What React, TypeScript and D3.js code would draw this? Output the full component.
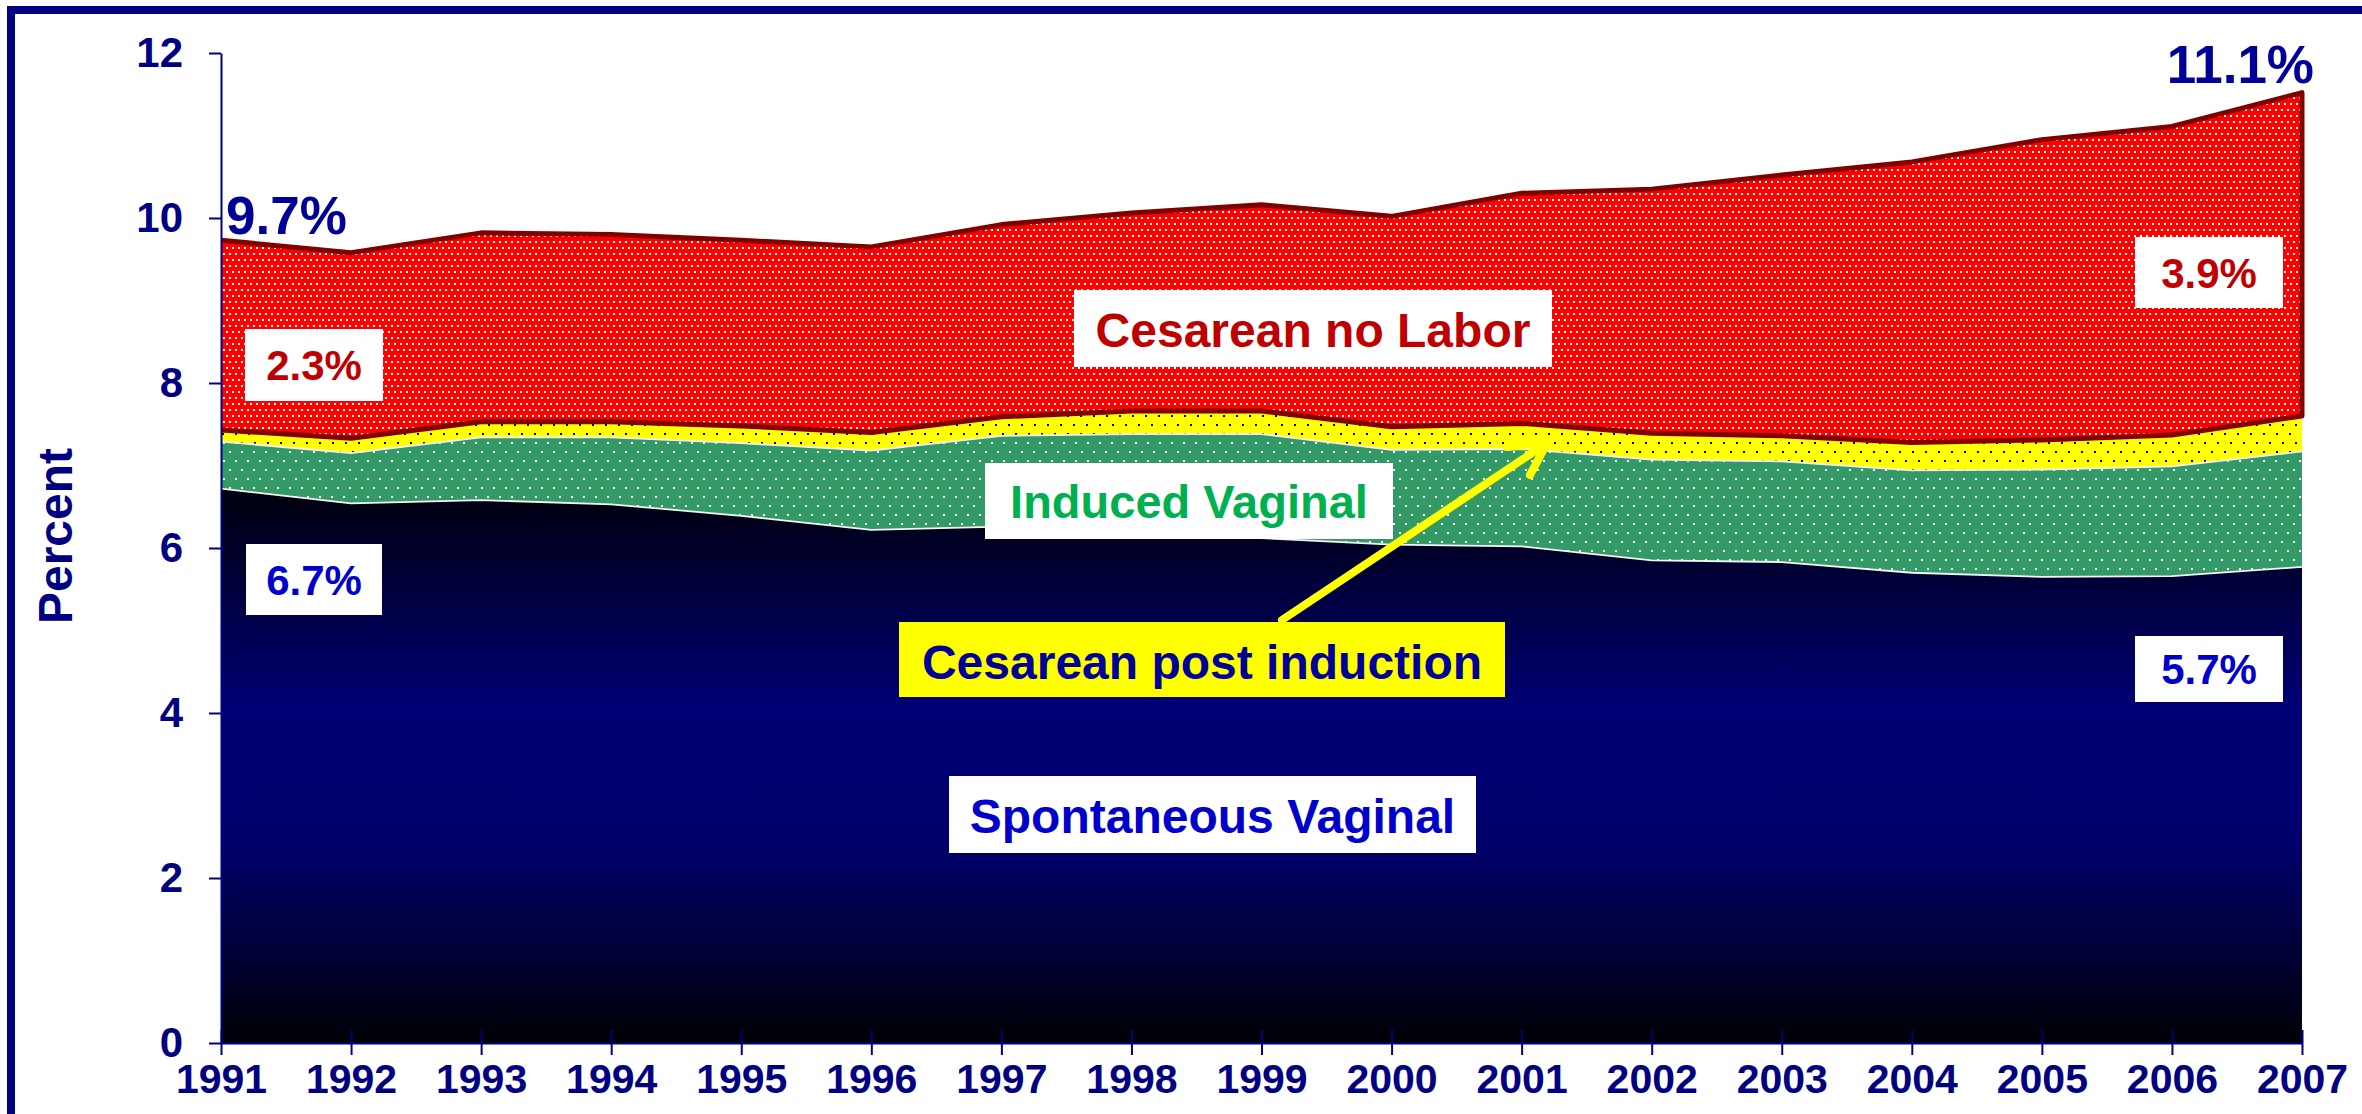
import React, { useEffect, useRef } from "react";
import * as d3 from "d3";

// values (percent of births)
const years = [1991, 1992, 1993, 1994, 1995, 1996, 1997, 1998, 1999, 2000, 2001, 2002, 2003, 2004, 2005, 2006, 2007];
const spontaneousVaginal = [6.72, 6.54, 6.58, 6.53, 6.39, 6.22, 6.26, 6.2, 6.12, 6.04, 6.02, 5.85, 5.83, 5.7, 5.65, 5.66, 5.77];
const inducedVaginal = [0.57, 0.61, 0.76, 0.81, 0.88, 0.96, 1.1, 1.18, 1.26, 1.15, 1.18, 1.22, 1.22, 1.24, 1.3, 1.33, 1.4];
const cesareanPostInduction = [0.14, 0.18, 0.19, 0.19, 0.21, 0.22, 0.23, 0.28, 0.28, 0.28, 0.31, 0.32, 0.31, 0.34, 0.36, 0.38, 0.43];
const cesareanNoLabor = [2.3, 2.25, 2.29, 2.27, 2.25, 2.25, 2.33, 2.4, 2.5, 2.55, 2.79, 2.96, 3.16, 3.4, 3.64, 3.74, 3.92];
const yTicks = [0, 2, 4, 6, 8, 10, 12];

const W = 2362;
const H = 1114;
const NAVY = "#000080";
const FONT = "Arial, 'Liberation Sans', Helvetica, sans-serif";

export default function App() {
  const ref = useRef<SVGSVGElement>(null);

  useEffect(() => {
    const svg = d3.select(ref.current);
    svg.selectAll("*").remove();

    const x = d3.scaleLinear().domain([1991, 2007]).range([221, 2302]);
    const y = d3.scaleLinear().domain([0, 12]).range([1043, 53]);

    const rows = years.map((yr, i) => ({
      year: yr,
      sv: spontaneousVaginal[i],
      iv: inducedVaginal[i],
      cpi: cesareanPostInduction[i],
      cnl: cesareanNoLabor[i],
    }));
    const series = d3.stack<any>().keys(["sv", "iv", "cpi", "cnl"])(rows);

    const defs = svg.append("defs");
    const mkPattern = (id: string, w: number, h: number, bg: string, dot: string, pts: number[][]) => {
      const p = defs.append("pattern").attr("id", id).attr("patternUnits", "userSpaceOnUse")
        .attr("width", w).attr("height", h);
      p.append("rect").attr("width", w).attr("height", h).attr("fill", bg);
      pts.forEach(([px, py]) => {
        p.append("rect").attr("x", px).attr("y", py).attr("width", 2).attr("height", 2).attr("fill", dot);
      });
    };
    mkPattern("redDots", 6, 12, "#FF0000", "#FFFFFF", [[1, 1], [4, 7]]);
    mkPattern("greenDots", 12, 18, "#339966", "#FFFFFF", [[1, 1], [7, 10]]);
    mkPattern("yellowDots", 13, 18, "#FFFF00", "#000000", [[1, 1], [7, 10]]);

    const grad = defs.append("linearGradient").attr("id", "blueGrad")
      .attr("gradientUnits", "userSpaceOnUse")
      .attr("x1", 0).attr("x2", 0).attr("y1", y(6.6)).attr("y2", y(0));
    grad.append("stop").attr("offset", 0).attr("stop-color", "#000010");
    grad.append("stop").attr("offset", 0.38).attr("stop-color", "#000074");
    grad.append("stop").attr("offset", 0.64).attr("stop-color", "#00006c");
    grad.append("stop").attr("offset", 1).attr("stop-color", "#000006");

    // slide frame
    svg.append("rect").attr("x", 11).attr("y", 10).attr("width", W + 20).attr("height", H + 20)
      .attr("fill", "#FFFFFF").attr("stroke", NAVY).attr("stroke-width", 8);

    const fills = ["url(#blueGrad)", "url(#greenDots)", "url(#yellowDots)", "url(#redDots)"];
    const area = d3.area<any>()
      .x((d) => x(d.data.year))
      .y0((d) => y(d[0]))
      .y1((d) => y(d[1]));

    svg.append("g").selectAll("path").data(series).join("path")
      .attr("d", (s: any) => area(s))
      .attr("fill", (_: any, i: number) => fills[i]);

    const topLine = d3.line<any>().x((d) => x(d.data.year)).y((d) => y(d[1]));
    // thin white edges on the green band
    [series[0], series[1]].forEach((s) => {
      svg.append("path").attr("d", topLine(s)).attr("fill", "none")
        .attr("stroke", "#F4F4F4").attr("stroke-width", 1.8);
    });

    // dark red outline of the cesarean-no-labor band (top, right end, bottom)
    const red = series[3];
    const outline: [number, number][] = [
      ...red.map((d: any) => [x(d.data.year), y(d[1])] as [number, number]),
      ...red.slice().reverse().map((d: any) => [x(d.data.year), y(d[0])] as [number, number]),
    ];
    svg.append("path").attr("d", d3.line()(outline)).attr("fill", "none")
      .attr("stroke", "#800000").attr("stroke-width", 5).attr("stroke-linejoin", "round");

    // axes
    const yAxis = svg.append("g").attr("transform", `translate(${x(1991)},0)`)
      .call(d3.axisLeft(y).tickValues(yTicks).tickSize(12).tickSizeOuter(0).tickPadding(26));
    yAxis.selectAll("path,line").attr("stroke", NAVY).attr("stroke-width", 2);
    yAxis.selectAll("text").attr("fill", NAVY).attr("font-family", FONT)
      .attr("font-size", 42).attr("font-weight", "bold");

    const xAxis = svg.append("g").attr("transform", `translate(0,${y(0)})`)
      .call(d3.axisBottom(x).tickValues(years).tickFormat(d3.format("d")).tickSize(12).tickSizeOuter(0).tickPadding(9));
    xAxis.selectAll("path,line").attr("stroke", NAVY).attr("stroke-width", 2);
    xAxis.selectAll("text").attr("fill", NAVY).attr("font-family", FONT)
      .attr("font-size", 41).attr("font-weight", "bold");
    xAxis.selectAll("g.tick").append("line").attr("y1", 0).attr("y2", -13)
      .attr("stroke", NAVY).attr("stroke-width", 2);

    svg.append("text").attr("transform", "translate(72,536) rotate(-90)")
      .attr("text-anchor", "middle").attr("fill", NAVY).attr("font-family", FONT)
      .attr("font-size", 48).attr("font-weight", "bold").text("Percent");

    // total labels
    const big = (txt: string, tx: number, ty: number, anchor: string) =>
      svg.append("text").attr("x", tx).attr("y", ty).attr("text-anchor", anchor)
        .attr("fill", "#000099").attr("font-family", FONT).attr("font-size", 53)
        .attr("font-weight", "bold").text(txt);
    big("9.7%", 226, 234, "start");
    big("11.1%", 2314, 83, "end");

    // boxed labels
    const box = (txt: string, bx: number, by: number, bw: number, bh: number, ty: number,
      size: number, color: string, bg = "#FFFFFF") => {
      svg.append("rect").attr("x", bx).attr("y", by).attr("width", bw).attr("height", bh).attr("fill", bg);
      svg.append("text").attr("x", bx + bw / 2).attr("y", ty).attr("text-anchor", "middle")
        .attr("fill", color).attr("font-family", FONT).attr("font-size", size)
        .attr("font-weight", "bold").text(txt);
    };
    box("2.3%", 245, 329, 138, 72, 380, 42, "#C00000");
    box("3.9%", 2135, 237, 148, 71, 288, 42, "#C00000");
    box("6.7%", 246, 544, 136, 71, 595, 42, "#0000CC");
    box("5.7%", 2135, 636, 148, 66, 684, 42, "#0000CC");
    box("Cesarean no Labor", 1074, 290, 478, 77, 347, 48, "#C00000");
    box("Induced Vaginal", 985, 463, 408, 76, 518, 47, "#00B050");
    box("Spontaneous Vaginal", 949, 776, 527, 77, 833, 48, "#0000CC");

    // arrow to the thin yellow band
    const arrow = svg.append("g").attr("stroke", "#FFFF00").attr("stroke-width", 8)
      .attr("stroke-linecap", "round").attr("fill", "none");
    arrow.append("line").attr("x1", 1282).attr("y1", 620).attr("x2", 1547).attr("y2", 443);
    arrow.append("polyline").attr("points", "1507,447 1547,443 1530,475")
      .attr("stroke-linejoin", "round");

    box("Cesarean post induction", 899, 622, 606, 75, 679, 48, "#000099", "#FFFF00");
  }, []);

  return (
    <div style={{ position: "absolute", left: 0, top: 0 }}>
      <svg ref={ref} width={W} height={H} style={{ display: "block" }} />
    </div>
  );
}
